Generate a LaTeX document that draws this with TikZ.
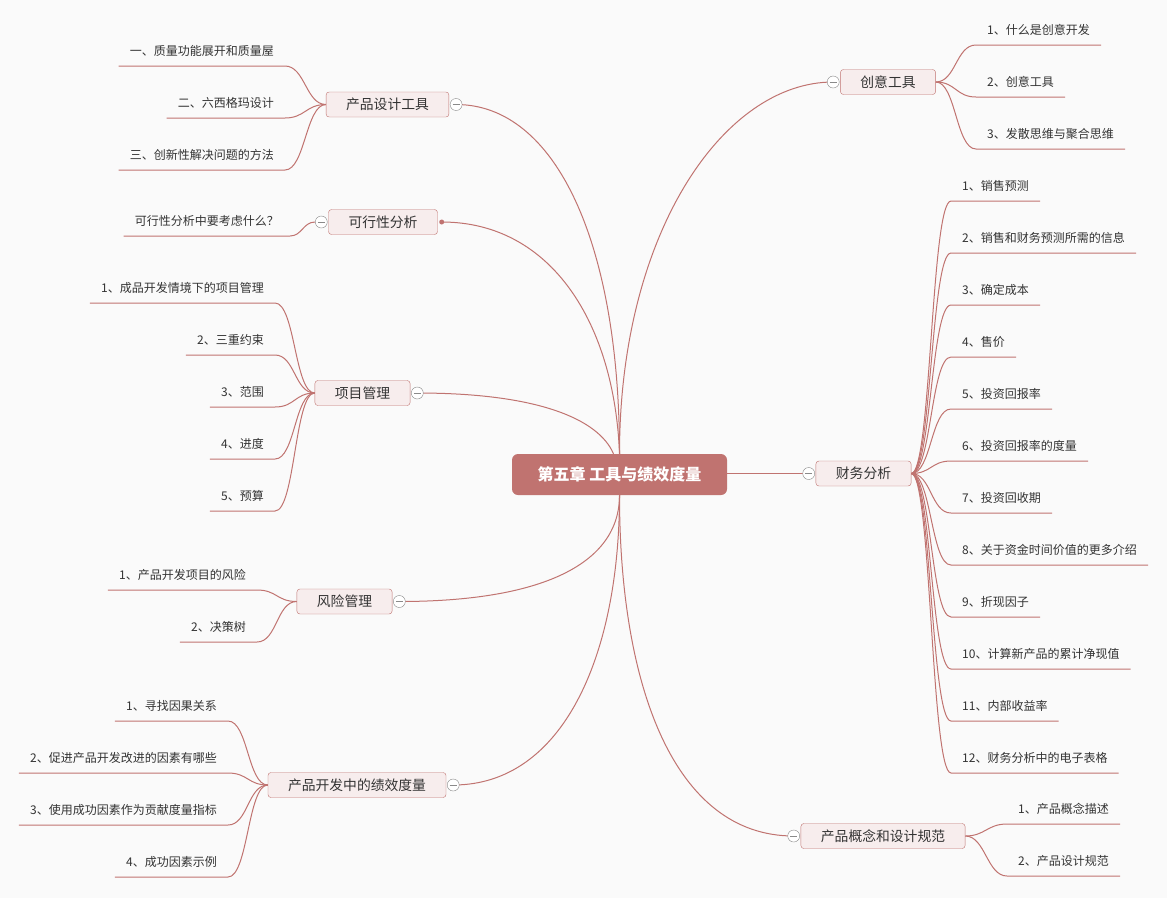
\documentclass[tikz,border=0pt]{standalone}
\usepackage{fontspec}
\newfontfamily\cjk{Noto Sans CJK SC}
\definecolor{rose}{HTML}{C07370}
\definecolor{pale}{HTML}{F7EDED}
\definecolor{txt}{HTML}{333333}
\definecolor{bg}{HTML}{FAFAFA}
\definecolor{foldgray}{HTML}{8A8A8A}
\tikzset{
    root/.style={rectangle, rounded corners=6pt, fill=rose, text=white,
        font=\cjk\fontsize{16}{19}\selectfont\bfseries, minimum width=215pt, minimum height=41pt},
    topic/.style={rectangle, rounded corners=3pt, draw=rose, fill=pale, text=txt,
        font=\cjk\fontsize{13.8}{16}\selectfont, inner xsep=20pt, inner ysep=0pt, minimum height=25pt},
    leaf/.style={text=txt, font=\cjk\fontsize{12}{14}\selectfont,
        inner xsep=11pt, inner ysep=7.4pt, text height=9pt, text depth=3pt},
    wire/.style={draw=rose, line width=1pt},
    fold/.style={circle, draw=foldgray, fill=white, inner sep=0pt, minimum size=12pt,
        path picture={\draw[foldgray] ([xshift=2.5pt]path picture bounding box.west) -- ([xshift=-2.5pt]path picture bounding box.east);}},
    knob/.style={circle, fill=rose, inner sep=0pt, minimum size=5pt},
}

\begin{document}
\begin{tikzpicture}[x=1pt, y=-1pt]
\fill[bg] (0,0) rectangle (1167,898);
\useasboundingbox (0,0) rectangle (1167,898);

% centre and main topics
\node[root] (root) at (619.5,474.5) {第五章 工具与绩效度量};
\node[topic] (t1) at (387.5,104.5) {产品设计工具};
\node[topic] (t2) at (383,222) {可行性分析};
\node[topic] (t3) at (362.5,393) {项目管理};
\node[topic] (t4) at (344.5,601.5) {风险管理};
\node[topic] (t5) at (357,785) {产品开发中的绩效度量};
\node[topic] (t6) at (888,82) {创意工具};
\node[topic] (t7) at (863.5,473.5) {财务分析};
\node[topic] (t8) at (883,836) {产品概念和设计规范};

% main branches
\draw[wire] (t1.east) ++(7,0) .. controls +(100,0) and +(0,-210) .. (root.north);
\node[knob] (k2) at ([xshift=4pt]t2.east) {};
\draw[wire] (k2.center) .. controls +(110,0) and +(-5,-130) .. (root.north);
\draw[wire] (t3.east) ++(7,0) .. controls +(120,0) and +(-15,-35) .. ([xshift=-6pt]root.north);
\draw[wire] (t4.east) ++(7,0) .. controls +(140,0) and +(0,70) .. (root.south);
\draw[wire] (t5.east) ++(7,0) .. controls +(110,0) and +(0,160) .. (root.south);
\draw[wire] (t6.west) ++(-7,0) .. controls +(-110,0) and +(0,-220) .. (root.north);
\draw[wire] (root.east |- t7.west) -- ([xshift=-7pt]t7.west);
\draw[wire] (t8.west) ++(-7,0) .. controls +(-120,0) and +(0,190) .. (root.south);

% 产品设计工具
\node[leaf, anchor=south east] (a1) at (285,66) {一、质量功能展开和质量屋};
\node[leaf, anchor=south east] (a2) at (285,118) {二、六西格玛设计};
\node[leaf, anchor=south east] (a3) at (285,170) {三、创新性解决问题的方法};
\foreach \n in {a1,a2,a3}
    \draw[wire] (t1.west) .. controls +(-20,0) and +(20,0) .. (\n.south east) -- (\n.south west);

% 可行性分析
\node[fold] (f2) at ([xshift=-7pt]t2.west) {};
\node[leaf, anchor=south east] (b1) at (290,236) {可行性分析中要考虑什么？};
\draw[wire] (f2.west) .. controls +(-12,0) and +(12,0) .. (b1.south east) -- (b1.south west);

% 项目管理
\foreach \txt [count=\i] in {1、成品开发情境下的项目管理, 2、三重约束, 3、范围, 4、进度, 5、预算} {
    \node[leaf, anchor=south east] (p\i) at (275,251+52*\i) {\txt};
    \draw[wire] (t3.west) .. controls +(-20,0) and +(20,0) .. (p\i.south east) -- (p\i.south west);
}

% 风险管理
\node[leaf, anchor=south east] (r1) at (257,590) {1、产品开发项目的风险};
\node[leaf, anchor=south east] (r2) at (257,642) {2、决策树};
\foreach \n in {r1,r2}
    \draw[wire] (t4.west) .. controls +(-20,0) and +(20,0) .. (\n.south east) -- (\n.south west);

% 产品开发中的绩效度量
\foreach \txt [count=\i] in {1、寻找因果关系, 2、促进产品开发改进的因素有哪些, 3、使用成功因素作为贡献度量指标, 4、成功因素示例} {
    \node[leaf, anchor=south east] (m\i) at (228,669+52*\i) {\txt};
    \draw[wire] (t5.west) .. controls +(-20,0) and +(20,0) .. (m\i.south east) -- (m\i.south west);
}

% 创意工具
\foreach \txt [count=\i] in {1、什么是创意开发, 2、创意工具, 3、发散思维与聚合思维} {
    \node[leaf, anchor=south west] (c\i) at (976,-7+52*\i) {\txt};
    \draw[wire] (t6.east) .. controls +(20,0) and +(-20,0) .. (c\i.south west) -- (c\i.south east);
}

% 财务分析
\foreach \txt [count=\i] in {1、销售预测, 2、销售和财务预测所需的信息, 3、确定成本, 4、售价,
        5、投资回报率, 6、投资回报率的度量, 7、投资回收期, 8、关于资金时间价值的更多介绍,
        9、折现因子, 10、计算新产品的累计净现值, 11、内部收益率, 12、财务分析中的电子表格} {
    \node[leaf, anchor=south west] (d\i) at (951,149+52*\i) {\txt};
    \draw[wire] (t7.east) .. controls +(20,0) and +(-20,0) .. (d\i.south west) -- (d\i.south east);
}

% 产品概念和设计规范
\node[leaf, anchor=south west] (g1) at (1007,824) {1、产品概念描述};
\node[leaf, anchor=south west] (g2) at (1007,876) {2、产品设计规范};
\foreach \n in {g1,g2}
    \draw[wire] (t8.east) .. controls +(20,0) and +(-20,0) .. (\n.south west) -- (\n.south east);

% fold buttons
\node[fold] at ([xshift=7pt]t1.east) {};
\node[fold] at ([xshift=7pt]t3.east) {};
\node[fold] at ([xshift=7pt]t4.east) {};
\node[fold] at ([xshift=7pt]t5.east) {};
\node[fold] at ([xshift=-7pt]t6.west) {};
\node[fold] at ([xshift=-7pt]t7.west) {};
\node[fold] at ([xshift=-7pt]t8.west) {};
\end{tikzpicture}
\end{document}
